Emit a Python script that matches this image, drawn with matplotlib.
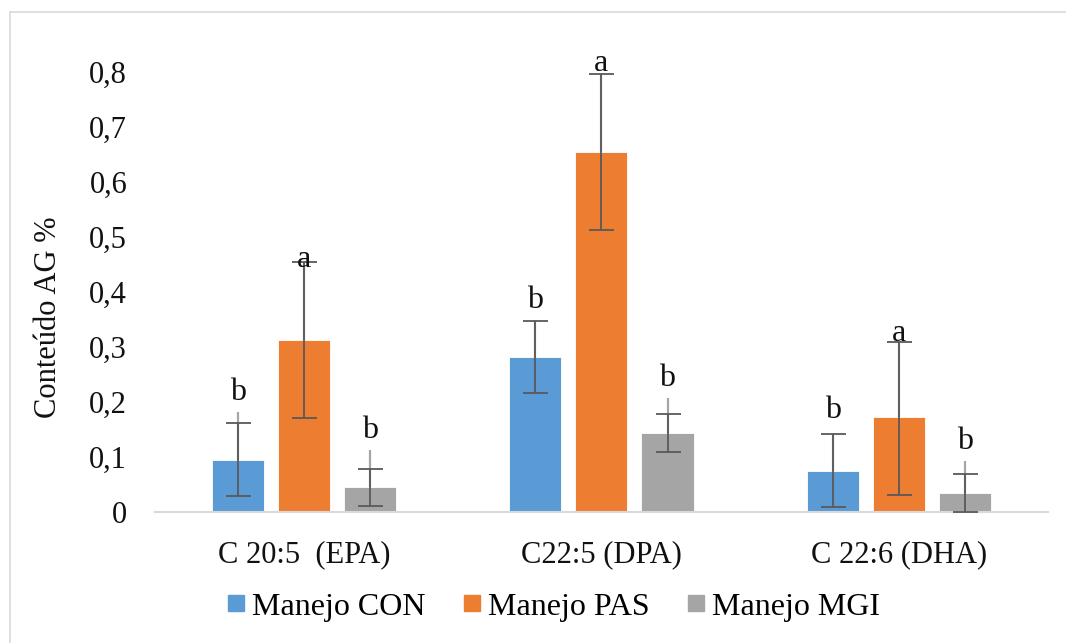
import numpy as np
import matplotlib.pyplot as plt
from matplotlib.lines import Line2D

plt.rcParams['font.family'] = ['Liberation Serif', 'DejaVu Serif']

# Fatty acid groups and treatments
categories = ['C 20:5  (EPA)', 'C22:5 (DPA)', 'C 22:6 (DHA)']
series = ['Manejo CON', 'Manejo PAS', 'Manejo MGI']
colors = ['#5B9BD5', '#ED7D31', '#A5A5A5']

# Mean content (%) per treatment, one list per series (EPA, DPA, DHA)
con_vals = [0.095, 0.282, 0.075]
pas_vals = [0.313, 0.655, 0.173]
mgi_vals = [0.045, 0.144, 0.035]

# Lower and upper ends of the dark error bars
con_low = [0.029, 0.216, 0.010]
con_high = [0.162, 0.348, 0.141]
pas_low = [0.171, 0.513, 0.031]
pas_high = [0.455, 0.797, 0.310]
mgi_low = [0.011, 0.110, 0.000]
mgi_high = [0.079, 0.179, 0.070]

# Top of the thin light lines
con_light = [0.182, 0.348, 0.141]
pas_light = [0.455, 0.797, 0.310]
mgi_light = [0.113, 0.207, 0.092]

# Significance letters and their heights
con_letters = ['b', 'b', 'b']
pas_letters = ['a', 'a', 'a']
mgi_letters = ['b', 'b', 'b']
con_letter_y = [0.218, 0.385, 0.185]
pas_letter_y = [0.460, 0.815, 0.325]
mgi_letter_y = [0.149, 0.242, 0.129]

values = [con_vals, pas_vals, mgi_vals]
lows = [con_low, pas_low, mgi_low]
highs = [con_high, pas_high, mgi_high]
lights = [con_light, pas_light, mgi_light]
letters = [con_letters, pas_letters, mgi_letters]
letter_ys = [con_letter_y, pas_letter_y, mgi_letter_y]

fig = plt.figure(figsize=(10.66, 6.43), dpi=100)
ax = fig.add_axes([0.1454, 0.2037, 0.8376, 0.6843])

x = np.arange(len(categories))
width = 0.175
step = 0.222

for i in range(3):
    xs = x + (i - 1) * step
    v = np.array(values[i])
    ax.bar(xs, v, width, color=colors[i], label=series[i], zorder=2,
           edgecolor='white', linewidth=0.6)
    # thin light line from bar top upward
    ax.vlines(xs, v, lights[i], color='#A6A6A6', linewidth=1.6, zorder=3)
    yerr = [v - np.array(lows[i]), np.array(highs[i]) - v]
    ax.errorbar(xs, v, yerr=yerr, fmt='none', ecolor='#595959',
                elinewidth=1.3, capsize=9, capthick=1.3, zorder=4)
    for xi, lab, ly in zip(xs, letters[i], letter_ys[i]):
        ax.text(xi, ly, lab, ha='center', va='center', fontsize=23,
                color='#111111', zorder=5, clip_on=False)

ax.set_xlim(-0.5, 2.5)
ax.set_ylim(0, 0.8)
ax.set_yticks(np.arange(0, 0.81, 0.1))
ax.set_yticklabels(['0'] + [f'0,{k}' for k in range(1, 9)])
ax.set_xticks(x)
ax.set_xticklabels(categories)
ax.tick_params(axis='both', length=0, labelsize=22, colors='#111111')
ax.tick_params(axis='y', pad=20)
ax.tick_params(axis='x', pad=20)

for side in ['top', 'right', 'left']:
    ax.spines[side].set_visible(False)
ax.spines['bottom'].set_color('#D9D9D9')
ax.spines['bottom'].set_linewidth(1.5)

ax.set_ylabel('Conteúdo AG %', fontsize=22, color='#111111')
ax.yaxis.set_label_coords(-0.103, 0.443)

handles = [Line2D([0], [0], marker='s', linestyle='none', markersize=11,
                  markerfacecolor=c, markeredgecolor=c) for c in colors]
fig.legend(handles, series, loc='center', bbox_to_anchor=(0.516, 0.056),
           ncol=3, frameon=False, fontsize=23, handletextpad=0.0,
           columnspacing=0.95, handlelength=1.0)

# outer chart border
fig.add_artist(Line2D([10 / 1066, 10 / 1066], [0, 1 - 12 / 643],
                      transform=fig.transFigure, color='#D9D9D9', linewidth=1.2))
fig.add_artist(Line2D([10 / 1066, 1065 / 1066], [1 - 12 / 643, 1 - 12 / 643],
                      transform=fig.transFigure, color='#D9D9D9', linewidth=1.2))

fig.savefig('out.png', dpi=100, facecolor='white')
